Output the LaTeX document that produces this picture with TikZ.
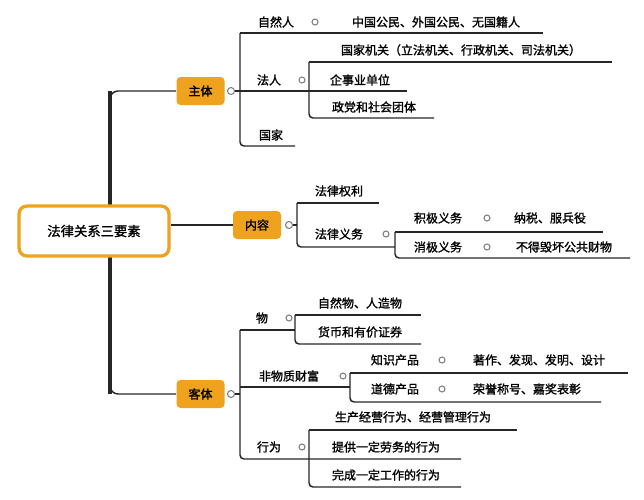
\documentclass[tikz,border=0pt]{standalone}
\usepackage{fontspec}
\setmainfont{Noto Sans CJK SC}[AutoFakeBold=1.5]
\definecolor{boxorange}{HTML}{EFA21E}
\tikzset{
  topic/.style={fill=boxorange,rounded corners=3pt,minimum width=36pt,minimum height=21pt,inner sep=0pt,font=\bfseries\small},
  txt/.style={inner sep=0.75pt,font=\bfseries\small},
  knob/.style={draw=gray,fill=white,line width=0.8pt},
  branch/.style={line width=1.1pt,rounded corners=3pt,draw=black!85},
}
\begin{document}
\begin{tikzpicture}[x=0.75pt,y=0.75pt,yscale=-1,xscale=1]
\useasboundingbox (0,0) rectangle (644,500);
% root and trunk
\draw[line width=2.6pt,rounded corners=6pt,black!85] (110,91) -- (110,394) ;
\draw[branch,rounded corners=6pt] (176,91) -- (110,91) -- (110,120) ;
\draw[branch,rounded corners=6pt] (176,394) -- (110,394) -- (110,370) ;
\node (root) [draw=boxorange,line width=2.5pt,fill=white,rounded corners=6pt,minimum width=112.5pt,minimum height=37.5pt,inner sep=0pt,font=\bfseries] at (94,231) {法律关系三要素};
\node (zhuti) [topic] at (200.5,91) {主体};
\node (neirong) [topic] at (257,225) {内容};
\node (keti) [topic] at (200.5,394) {客体};
\draw[branch] (root.east |- neirong.west) -- (neirong.west) ;
% 主体
\draw[branch] (240,33) -- (240,146) -- (295,146) ;
\draw[branch] (240,33) -- (543,33) ;
\draw[branch] (231,91) -- (407,91) ;
\draw[branch] (309,62) -- (612,62) ;
\draw[branch] (309,62) -- (309,118) -- (434,118) ;
\draw[knob] (231,91) circle (3.5) ;
\node (ziranren) [txt] at (276,22) {自然人};
\draw[knob] (315,22) circle (3) ;
\node (gongmin) [txt] at (436,22) {中国公民、外国公民、无国籍人};
\node (faren) [txt] at (269,80) {法人};
\draw[knob] (302,80) circle (3) ;
\node (jiguan) [txt] at (461,50) {国家机关（立法机关、行政机关、司法机关）};
\node (qishiye) [txt] at (360,80) {企事业单位};
\node (zhengdang) [txt] at (374,107) {政党和社会团体};
\node (guojia) [txt] at (271,135) {国家};
% 内容
\draw[branch] (297,203) -- (297,247) -- (395,247) ;
\draw[branch] (289,225) -- (297,225) ;
\draw[branch] (297,203) -- (379,203) ;
\draw[branch] (395,232) -- (603,232) ;
\draw[branch] (395,232) -- (395,258) -- (630,258) ;
\draw[knob] (289,225) circle (3.5) ;
\node (quanli) [txt] at (339,191) {法律权利};
\node (yiwu) [txt] at (339,234) {法律义务};
\draw[knob] (386,234) circle (3) ;
\node (jiji) [txt] at (438,218) {积极义务};
\draw[knob] (487,218) circle (3) ;
\node (nashui) [txt] at (550,218) {纳税、服兵役};
\node (xiaoji) [txt] at (438,247) {消极义务};
\draw[knob] (487,247) circle (3) ;
\node (buhuai) [txt] at (564,247) {不得毁坏公共财物};
% 客体
\draw[branch] (240,330) -- (240,459) -- (461,459) ;
\draw[branch] (240,330) -- (295,330) ;
\draw[branch] (295,315) -- (421,315) ;
\draw[branch] (295,315) -- (295,344) -- (421,344) ;
\draw[branch] (231,394) -- (240,394) ;
\draw[branch] (240,387) -- (350,387) ;
\draw[branch] (350,373) -- (628,373) ;
\draw[branch] (350,373) -- (350,402) -- (601,402) ;
\draw[branch] (309,430) -- (517,430) ;
\draw[branch] (309,430) -- (309,487) -- (461,487) ;
\draw[knob] (231,394) circle (3.5) ;
\node (wu) [txt] at (262,318) {物};
\draw[knob] (289,318) circle (3) ;
\node (ziranwu) [txt] at (360,303) {自然物、人造物};
\node (huobi) [txt] at (360,332) {货币和有价证券};
\node (feiwuzhi) [txt] at (289,376) {非物质财富};
\draw[knob] (343,376) circle (3) ;
\node (zhishi) [txt] at (395,360) {知识产品};
\draw[knob] (442,360) circle (3) ;
\node (zhuzuo) [txt] at (539,360) {著作、发现、发明、设计};
\node (daode) [txt] at (395,389) {道德产品};
\draw[knob] (442,389) circle (3) ;
\node (rongyu) [txt] at (527,389) {荣誉称号、嘉奖表彰};
\node (xingwei) [txt] at (269,447) {行为};
\draw[knob] (302,447) circle (3) ;
\node (shengchan) [txt] at (413,417) {生产经营行为、经营管理行为};
\node (laowu) [txt] at (386,447) {提供一定劳务的行为};
\node (gongzuo) [txt] at (386,475) {完成一定工作的行为};
\end{tikzpicture}
\end{document}
